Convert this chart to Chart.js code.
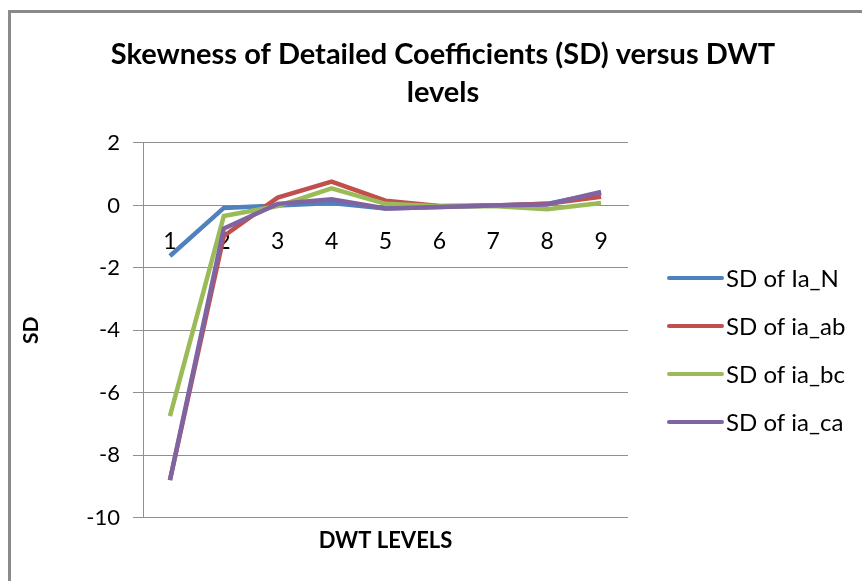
<!DOCTYPE html>
<html>
<head>
<meta charset="utf-8">
<script src="https://cdn.jsdelivr.net/npm/chart.js@4/dist/chart.umd.min.js"></script>
<style>
  html, body { margin: 0; padding: 0; background: #fff; overflow: hidden; }
  #wrap { position: relative; width: 862px; height: 581px; }
</style>
</head>
<body>
<div id="wrap"><canvas id="c" width="862" height="581"></canvas></div>
<script>
const levels = ['1', '2', '3', '4', '5', '6', '7', '8', '9'];
const sdIaN  = [-1.62, -0.08, 0.00, 0.08, -0.10, -0.05, 0.00, 0.05, 0.40];
const sdIaAb = [-8.80, -0.98, 0.25, 0.76, 0.15, -0.02, 0.00, 0.05, 0.28];
const sdIaBc = [-6.75, -0.34, -0.02, 0.55, 0.05, -0.03, -0.02, -0.12, 0.08];
const sdIaCa = [-8.80, -0.74, 0.05, 0.20, -0.10, -0.05, 0.00, 0.03, 0.43];
const seriesNames = ['SD of Ia_N', 'SD of ia_ab', 'SD of ia_bc', 'SD of ia_ca'];
const yTicks = [-10, -8, -6, -4, -2, 0, 2];
const titleLines = ['Skewness of Detailed Coefficients (SD) versus DWT', 'levels'];

const colors = ['#4F81BD', '#C0504D', '#9BBB59', '#8064A2'];
const FONT = 'Lato, "Open Sans", sans-serif';
const GRID = '#8f8f8f';

const framePlugin = {
  id: 'frame',
  beforeDraw(chart) {
    const ctx = chart.ctx;
    ctx.save();
    ctx.fillStyle = '#fff';
    ctx.fillRect(0, 0, chart.width, chart.height);
    ctx.strokeStyle = '#8a8a8a';
    ctx.lineWidth = 3;
    ctx.beginPath();
    ctx.moveTo(9.5, chart.height);
    ctx.lineTo(9.5, 11.5);
    ctx.lineTo(chart.width, 11.5);
    ctx.stroke();
    ctx.restore();
  }
};

const legendPlugin = {
  id: 'sideLegend',
  afterDraw(chart) {
    const ctx = chart.ctx;
    ctx.save();
    ctx.font = '24px ' + FONT;
    ctx.textBaseline = 'middle';
    ctx.textAlign = 'left';
    chart.data.datasets.forEach((ds, i) => {
      const y = 278 + i * 48;
      ctx.strokeStyle = ds.borderColor;
      ctx.lineWidth = 4;
      ctx.lineCap = 'round';
      ctx.beginPath();
      ctx.moveTo(669, y);
      ctx.lineTo(722, y);
      ctx.stroke();
      ctx.fillStyle = '#000';
      ctx.fillText(ds.label, 726, y + 1);
    });
    ctx.restore();
  }
};

const allSeries = [sdIaN, sdIaAb, sdIaBc, sdIaCa];

new Chart(document.getElementById('c'), {
  type: 'line',
  data: {
    labels: levels,
    datasets: allSeries.map((d, i) => ({
      label: seriesNames[i],
      data: d,
      order: allSeries.length - i,
      borderColor: colors[i],
      backgroundColor: colors[i],
      borderWidth: 4.5,
      pointRadius: 0,
      tension: 0,
      fill: false
    }))
  },
  options: {
    responsive: false,
    animation: false,
    layout: { padding: { left: 24, right: 0, top: 0, bottom: 0 } },
    plugins: {
      legend: { display: false },
      tooltip: { enabled: false },
      title: {
        display: true,
        text: titleLines,
        color: '#000',
        font: { family: FONT, size: 29, weight: 'bold', lineHeight: 1.31 },
        padding: { top: 36, bottom: 31 }
      }
    },
    scales: {
      y: {
        min: -10,
        max: 2,
        afterBuildTicks(scale) { scale.ticks = yTicks.map(v => ({ value: v })); },
        afterFit(scale) { scale.width = 119; },
        grid: { color: GRID, lineWidth: 1, tickLength: 10, drawOnChartArea: true },
        border: { display: true, color: GRID, width: 1 },
        ticks: { color: '#000', font: { family: FONT, size: 22 }, padding: 13 },
        title: {
          display: true,
          text: 'SD',
          color: '#000',
          font: { family: FONT, size: 21, weight: 'bold' },
          padding: { top: -5, bottom: 0 }
        }
      },
      yRight: {
        type: 'linear',
        position: 'right',
        display: true,
        afterFit(scale) { scale.width = 234; },
        grid: { display: false, drawTicks: false },
        border: { display: false },
        ticks: { display: false }
      },
      x: {
        type: 'category',
        offset: true,
        position: { y: 0 },
        afterFit(scale) { scale.height = 0; },
        grid: { display: false, drawOnChartArea: false, drawTicks: false },
        border: { display: true, color: GRID, width: 1 },
        ticks: { color: '#000', font: { family: FONT, size: 23 }, padding: 22, maxRotation: 0, autoSkip: false }
      },
      x2: {
        type: 'category',
        labels: levels,
        position: 'bottom',
        offset: true,
        grid: { display: false, drawTicks: false },
        border: { display: false },
        ticks: { display: false },
        title: {
          display: true,
          text: 'DWT LEVELS',
          color: '#000',
          font: { family: FONT, size: 22, weight: 'bold' },
          padding: { top: 10, bottom: 27 }
        }
      }
    }
  },
  plugins: [framePlugin, legendPlugin]
});
</script>
</body>
</html>
